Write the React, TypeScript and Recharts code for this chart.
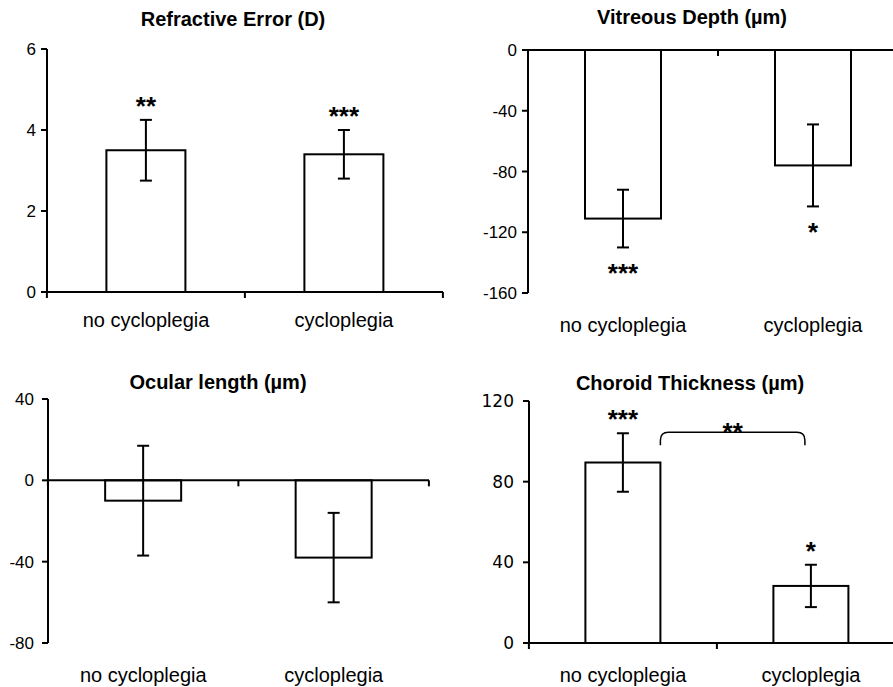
import { BarChart, Bar, XAxis, YAxis, ErrorBar, ReferenceLine } from "recharts";

const CATEGORIES = ["no cycloplegia", "cycloplegia"];

// Refractive Error (D)
const REFRACTIVE_MEAN = [3.5, 3.4];
const REFRACTIVE_SEM = [0.75, 0.6];
const REFRACTIVE_STARS = ["**", "***"];
const REFRACTIVE_TICKS = [0, 2, 4, 6];

// Vitreous Depth (µm)
const VITREOUS_MEAN = [-111, -76];
const VITREOUS_SEM = [19, 27];
const VITREOUS_STARS = ["***", "*"];
const VITREOUS_TICKS = [-160, -120, -80, -40, 0];

// Ocular length (µm)
const OCULAR_MEAN = [-10, -38];
const OCULAR_SEM = [27, 22];
const OCULAR_STARS = ["", ""];
const OCULAR_TICKS = [-80, -40, 0, 40];

// Choroid Thickness (µm)
const CHOROID_MEAN = [89.5, 28.3];
const CHOROID_SEM = [14.5, 10.5];
const CHOROID_STARS = ["***", "*"];
const CHOROID_BRACKET = "**";
const CHOROID_TICKS = [0, 40, 80, 120];

const FONT = '"Liberation Sans", Arial, sans-serif';

const buildRows = (mean: number[], sem: number[], stars: string[]) =>
    CATEGORIES.map((name, i) => ({ name, mean: mean[i], sem: sem[i], stars: stars[i] }));

interface IPanelProps {
    title: string;
    mean: number[];
    sem: number[];
    stars: string[];
    ticks: number[];
    bracket?: string;
    left: number;
    top: number;
    width: number;
    height: number;
    margin: { top: number; right: number; bottom: number; left: number };
    yAxisWidth: number;
    yTickMargin: number;
    xTickMargin: number;
    tickFont?: string;
}

const makeShape = (band: number, count: number, bracket?: string) => (props: any) => {
    const { x, y, width, height, payload, index } = props;
    const top = Math.min(y, y + height);
    const bottom = Math.max(y, y + height);
    const value = payload.mean;
    const base = value >= 0 ? bottom : top;
    const pxPerUnit = Math.abs(height) / Math.abs(value || 1);
    const errPx = payload.sem * pxPerUnit;
    const cx = x + width / 2;
    const starY = value >= 0 ? top - errPx - 5 : bottom + errPx + 35;

    let bracketEl = null;
    if (bracket && index === 0) {
        const x1 = x + width;
        const x2 = cx + band - 6;
        const yTop = top - errPx - 1;
        const yEnd = yTop + 13;
        const r = 8;
        bracketEl = (
            <g>
                <path
                    d={`M${x1},${yEnd} L${x1},${yTop + r} Q${x1},${yTop} ${x1 + r},${yTop} L${x2 - r},${yTop} Q${x2},${yTop} ${x2},${yTop + r} L${x2},${yEnd}`}
                    fill="none"
                    stroke="#000"
                    strokeWidth={1.5}
                />
                <text x={(x1 + x2) / 2} y={yTop + 9} textAnchor="middle" fontSize={26} fontWeight="bold" fontFamily={FONT} fill="#000">
                    {bracket}
                </text>
            </g>
        );
    }

    return (
        <g>
            <rect x={x} y={top} width={width} height={bottom - top} fill="#fff" stroke="#000" strokeWidth={2} />
            <line x1={cx - band / 2} y1={base} x2={cx - band / 2} y2={base + 6} stroke="#000" strokeWidth={2} />
            {index === count - 1 && (
                <line x1={cx + band / 2} y1={base} x2={cx + band / 2} y2={base + 6} stroke="#000" strokeWidth={2} />
            )}
            {payload.stars && (
                <text x={cx} y={starY} textAnchor="middle" fontSize={26} fontWeight="bold" fontFamily={FONT} fill="#000">
                    {payload.stars}
                </text>
            )}
            {bracketEl}
        </g>
    );
};

const Panel = (p: IPanelProps) => {
    const data = buildRows(p.mean, p.sem, p.stars);
    const plotWidth = p.width - p.margin.left - p.margin.right - p.yAxisWidth;
    const band = plotWidth / CATEGORIES.length;
    return (
        <div style={{ position: "absolute", left: p.left, top: p.top, width: p.width, height: p.height }}>
            <BarChart width={p.width} height={p.height} data={data} margin={p.margin} barCategoryGap="30%">
                <XAxis
                    dataKey="name"
                    axisLine={false}
                    tickLine={false}
                    interval={0}
                    height={40}
                    tickMargin={p.xTickMargin}
                    tick={{ fill: "#000", fontSize: 20, fontFamily: FONT }}
                />
                <YAxis
                    domain={[p.ticks[0], p.ticks[p.ticks.length - 1]]}
                    ticks={p.ticks}
                    interval={0}
                    width={p.yAxisWidth}
                    tickSize={6}
                    tickMargin={p.yTickMargin}
                    axisLine={{ stroke: "#000", strokeWidth: 2 }}
                    tickLine={{ stroke: "#000", strokeWidth: 2 }}
                    tick={{ fill: "#000", fontSize: 17, fontFamily: p.tickFont || FONT }}
                />
                <ReferenceLine y={0} stroke="#000" strokeWidth={2} />
                <Bar dataKey="mean" shape={makeShape(band, data.length, p.bracket)} isAnimationActive={false}>
                    <ErrorBar dataKey="sem" width={6} stroke="#000" strokeWidth={2} />
                </Bar>
            </BarChart>
        </div>
    );
};

const Title = ({ text, cx, top }: { text: string; cx: number; top: number }) => (
    <div
        style={{
            position: "absolute",
            left: cx - 200,
            top,
            width: 400,
            textAlign: "center",
            fontFamily: FONT,
            fontWeight: "bold",
            fontSize: 20,
            lineHeight: "20px",
            color: "#000",
        }}
    >
        {text}
    </div>
);

const App = () => {
    return (
        <div style={{ position: "absolute", left: 0, top: 0, width: 893, height: 687, overflow: "hidden", background: "#fff" }}>
            <Panel
                title="Refractive Error (D)"
                mean={REFRACTIVE_MEAN}
                sem={REFRACTIVE_SEM}
                stars={REFRACTIVE_STARS}
                ticks={REFRACTIVE_TICKS}
                left={0}
                top={0}
                width={446}
                height={340}
                margin={{ top: 49, right: 3, bottom: 8, left: 7 }}
                yAxisWidth={40}
                yTickMargin={5}
                xTickMargin={15}
            />
            <Panel
                title="Vitreous Depth (µm)"
                mean={VITREOUS_MEAN}
                sem={VITREOUS_SEM}
                stars={VITREOUS_STARS}
                ticks={VITREOUS_TICKS}
                left={446}
                top={0}
                width={462}
                height={340}
                margin={{ top: 50, right: 0, bottom: 7, left: 22 }}
                yAxisWidth={60}
                yTickMargin={5}
                xTickMargin={19}
            />
            <Panel
                title="Ocular length (µm)"
                mean={OCULAR_MEAN}
                sem={OCULAR_SEM}
                stars={OCULAR_STARS}
                ticks={OCULAR_TICKS}
                left={0}
                top={340}
                width={446}
                height={347}
                margin={{ top: 59, right: 17, bottom: 4, left: 8 }}
                yAxisWidth={40}
                yTickMargin={8}
                xTickMargin={19}
            />
            <Panel
                title="Choroid Thickness (µm)"
                mean={CHOROID_MEAN}
                sem={CHOROID_SEM}
                stars={CHOROID_STARS}
                ticks={CHOROID_TICKS}
                bracket={CHOROID_BRACKET}
                left={446}
                top={340}
                width={462}
                height={347}
                margin={{ top: 61, right: 3, bottom: 4, left: 23 }}
                yAxisWidth={60}
                yTickMargin={9}
                xTickMargin={19}
                tickFont='"DejaVu Sans", Verdana, sans-serif'
            />
            <Title text="Refractive Error (D)" cx={233} top={9} />
            <Title text="Vitreous Depth (µm)" cx={692} top={7} />
            <Title text="Ocular length (µm)" cx={218} top={372} />
            <Title text="Choroid Thickness (µm)" cx={690} top={373} />
        </div>
    );
};

export default App;
